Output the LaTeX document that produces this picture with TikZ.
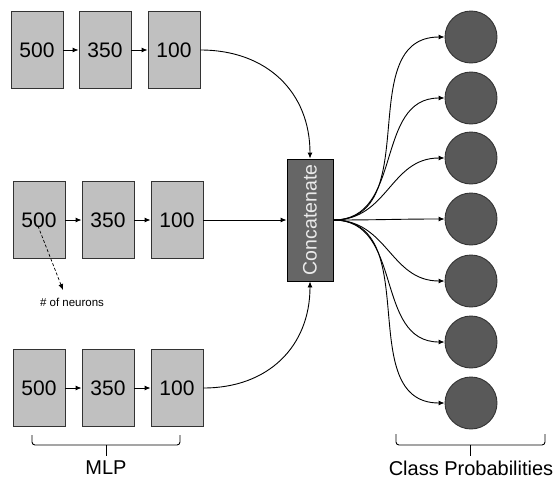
\documentclass[tikz,border=0pt]{standalone}
\usepackage{fontspec}
\setmainfont{Liberation Sans}
\usetikzlibrary{arrows.meta}
\definecolor{boxgray}{HTML}{C0C0C0}
\definecolor{darkfill}{HTML}{666666}
\definecolor{circfill}{HTML}{595959}
\definecolor{edge}{HTML}{333333}
\begin{document}
\begin{tikzpicture}[x=1pt,y=-1pt,
  layer/.style={draw=edge,line width=0.9pt,fill=boxgray,minimum width=52pt,minimum height=77pt,inner sep=0pt,font=\fontsize{21}{21}\selectfont},
  concat/.style={draw=black,line width=0.9pt,fill=darkfill,minimum width=46pt,minimum height=122pt,inner sep=0pt},
  prob/.style={circle,draw=edge,line width=0.9pt,fill=circfill,minimum size=52pt,inner sep=0pt},
  arr/.style={-{Latex[length=6pt,width=5pt]},line width=0.9pt},
  brc/.style={line width=0.9pt,rounded corners=3pt}]
\useasboundingbox (0,0) rectangle (553,479);
% rows
\node[layer] (a1) at (37,50) {500};
\node[layer] (a2) at (105,50) {350};
\node[layer] (a3) at (174,50) {100};
\node[layer] (b1) at (39,220) {500};
\node[layer] (b2) at (108,220) {350};
\node[layer] (b3) at (177,220) {100};
\node[layer] (c1) at (39,388) {500};
\node[layer] (c2) at (108,388) {350};
\node[layer] (c3) at (177,388) {100};
\draw[arr] (a1) -- (a2);
\draw[arr] (a2) -- (a3);
\draw[arr] (b1) -- (b2);
\draw[arr] (b2) -- (b3);
\draw[arr] (c1) -- (c2);
\draw[arr] (c2) -- (c3);
% concatenate
\node[concat] (cat) at (310,220) {\rotatebox{90}{\color{white!92!black}\fontsize{19.5}{19.5}\selectfont Concatenate}};
\draw[arr] (a3.east) to[out=0,in=90,looseness=1.1] (cat.north);
\draw[arr] (b3.east) -- (cat.west);
\draw[arr] (c3.east) to[out=0,in=-90,looseness=1.1] (cat.south);
% neurons note
\coordinate (nstart) at (38,226);
\node[font=\fontsize{11.5}{11.5}\selectfont] (note) at (72,302) {\# of neurons};
\coordinate (nend) at (63,290);
\draw[-{Latex[length=6pt,width=5pt]},densely dashed,line width=0.7pt] (nstart) -- (nend);
% outputs
\foreach \i/\y in {1/37,2/98,3/158,4/219,5/281,6/342,7/403}{
  \node[prob] (p\i) at (471,\y) {};
  \draw[arr] (cat.east) to[out=0,in=180,looseness=1.1] (p\i.west);
}
% braces
\coordinate (m1) at (32,435);
\coordinate (m2) at (180,435);
\coordinate (mt) at (106,445);
\draw[brc] (m1) |- (mt) -| (m2);
\draw[line width=0.9pt] (mt) -- ++(0,11);
\node[font=\fontsize{20}{20}\selectfont] (mlp) at (106,468) {MLP};
\coordinate (k1) at (396,434);
\coordinate (k2) at (545,434);
\coordinate (kt) at (470,445);
\draw[brc] (k1) |- (kt) -| (k2);
\draw[line width=0.9pt] (kt) -- ++(0,11);
\node[font=\fontsize{20}{20}\selectfont] (cp) at (471,468) {Class Probabilities};
\end{tikzpicture}
\end{document}
